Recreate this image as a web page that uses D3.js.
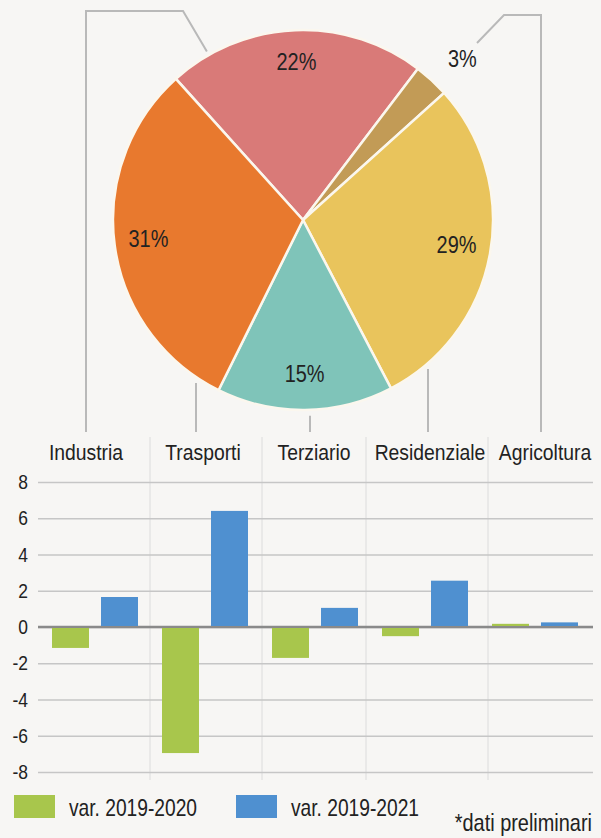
<!DOCTYPE html>
<html>
<head>
<meta charset="utf-8">
<script src="https://cdn.jsdelivr.net/npm/d3@7"></script>
<style>
  html, body { margin: 0; padding: 0; background: #f7f6f4; }
  svg text { font-family: "Liberation Sans", Arial, sans-serif; fill: #222; }
</style>
</head>
<body>
<div id="chart"></div>
<script>
// dati
const categories = ['Industria', 'Trasporti', 'Terziario', 'Residenziale', 'Agricoltura']
const shares = [22, 31, 15, 29, 3]
const var2020 = [-1.1, -6.9, -1.65, -0.45, 0.12]
const var2021 = [1.6, 6.35, 1.0, 2.5, 0.2]
const pieOrder = ['Industria', 'Agricoltura', 'Residenziale', 'Terziario', 'Trasporti']
const yTicks = [-8, -6, -4, -2, 0, 2, 4, 6, 8]
const seriesNames = ['var. 2019-2020', 'var. 2019-2021']
const footnote = '*dati preliminari'

const sliceColors = {
  Industria: '#d97a78',
  Trasporti: '#e8792e',
  Terziario: '#7fc4b9',
  Residenziale: '#e9c45c',
  Agricoltura: '#c29b56'
}
const seriesColors = ['#a8c64c', '#4f90d0']

const width = 601
const height = 838
const cx = 303
const cy = 220
const radius = 190
const narrow = 0.83   // il font originale e' condensato
const labelY = 460
const labelX = [86, 203, 314, 430, 545]
const connectorX = [86, 196, 310, 428, 541]
const separators = [150, 262, 366, 488]

const svg = d3.select('#chart')
  .append('svg')
  .attr('width', width)
  .attr('height', height)

// testo condensato: translate + scala orizzontale
const place = (x, y, k = narrow) => `translate(${x}, ${y}) scale(${k}, 1)`

// ---- torta ----
const toRad = a => a * Math.PI / 180
const toDeg = a => a * 180 / Math.PI
const polar = (deg, r) => [cx + r * Math.sin(toRad(deg)), cy - r * Math.cos(toRad(deg))]

const pieData = pieOrder.map(c => ({ name: c, value: shares[categories.indexOf(c)] }))
const pie = d3.pie()
  .sort(null)
  .value(d => d.value)
  .startAngle(toRad(-42))
  .endAngle(toRad(318))
const arcs = pie(pieData)
const arc = d3.arc().innerRadius(0).outerRadius(radius)

// linee di collegamento
const connectors = categories.map((c, i) => {
  const x = connectorX[i]
  if (c === 'Industria') return [[x, 432], [x, 11], [183, 11], polar(-29.7, radius + 4)]
  if (c === 'Agricoltura') return [[x, 432], [x, 15], [504, 15], [477, 43]]
  const edge = cy + Math.sqrt(radius * radius - (x - cx) * (x - cx))
  return [[x, 432], [x, edge + 6]]
})
svg.append('g')
  .selectAll('path')
  .data(connectors)
  .join('path')
  .attr('d', d3.line())
  .attr('fill', 'none')
  .attr('stroke', '#b9b9b9')
  .attr('stroke-width', 2)

svg.append('g')
  .attr('transform', `translate(${cx}, ${cy})`)
  .selectAll('path')
  .data(arcs)
  .join('path')
  .attr('d', arc)
  .attr('fill', d => sliceColors[d.data.name])
  .attr('stroke', '#fbf7ee')
  .attr('stroke-width', 2.5)

svg.append('g')
  .selectAll('text')
  .data(arcs)
  .join('text')
  .attr('transform', d => {
    const mid = toDeg((d.startAngle + d.endAngle) / 2)
    const p = d.data.value < 5 ? polar(mid + 2.5, 225) : polar(mid, 156)
    return place(p[0], p[1] - 3)
  })
  .attr('text-anchor', 'middle')
  .attr('dy', '0.36em')
  .style('font-size', '24px')
  .text(d => d.data.value + '%')

// ---- etichette categorie ----
svg.append('g')
  .selectAll('text')
  .data(categories)
  .join('text')
  .attr('transform', (d, i) => place(labelX[i], labelY, 0.86))
  .attr('text-anchor', 'middle')
  .style('font-size', '22.5px')
  .text(d => d)

// ---- barre ----
const x = d3.scaleBand().domain(categories).range([40, 590])
const xs = d3.scaleBand().domain([0, 1]).range([0, x.bandwidth()]).padding(0.245)
const y = d3.scaleLinear().domain([-8, 8]).range([772, 482])

svg.append('g')
  .selectAll('line')
  .data(separators)
  .join('line')
  .attr('x1', d => d).attr('x2', d => d)
  .attr('y1', 437).attr('y2', 780)
  .attr('stroke', '#dcdcdc')
  .attr('stroke-width', 1)

const yAxis = d3.axisLeft(y)
  .tickValues(yTicks)
  .tickFormat(d => String(d))
  .tickSize(-555)
  .tickPadding(12)
const gAxis = svg.append('g')
  .attr('transform', 'translate(38, 0)')
  .call(yAxis)
gAxis.select('.domain').remove()
gAxis.selectAll('.tick line')
  .attr('stroke', '#c6c6c6')
  .attr('stroke-width', 1.6)
gAxis.selectAll('.tick text')
  .attr('fill', '#222')
  .attr('transform', `scale(${narrow}, 1)`)
  .style('font-family', '"Liberation Sans", Arial, sans-serif')
  .style('font-size', '21px')

// linea dello zero
svg.append('line')
  .attr('x1', 38).attr('x2', 593)
  .attr('y1', y(0)).attr('y2', y(0))
  .attr('stroke', '#8a8a8a')
  .attr('stroke-width', 2.5)

const series = [var2020, var2021]
const gBars = svg.append('g')
series.forEach((vals, s) => {
  gBars.append('g')
    .selectAll('rect')
    .data(vals)
    .join('rect')
    .attr('x', (d, i) => x(categories[i]) + xs(s))
    .attr('width', xs.bandwidth())
    .attr('y', d => y(Math.max(0, d)) - (d > 0 ? 1 : -1))
    .attr('height', d => Math.abs(y(d) - y(0)))
    .attr('fill', seriesColors[s])
})

// ---- legenda ----
const legendX = [14, 236]
const gLegend = svg.append('g')
seriesNames.forEach((name, i) => {
  gLegend.append('rect')
    .attr('x', legendX[i]).attr('y', 795)
    .attr('width', 41).attr('height', 23)
    .attr('fill', seriesColors[i])
  gLegend.append('text')
    .attr('transform', place(legendX[i] + 55, 816, 0.8))
    .style('font-size', '24px')
    .text(name)
})

svg.append('text')
  .attr('transform', place(592, 831))
  .attr('text-anchor', 'end')
  .style('font-size', '24px')
  .text(footnote)
</script>
</body>
</html>
